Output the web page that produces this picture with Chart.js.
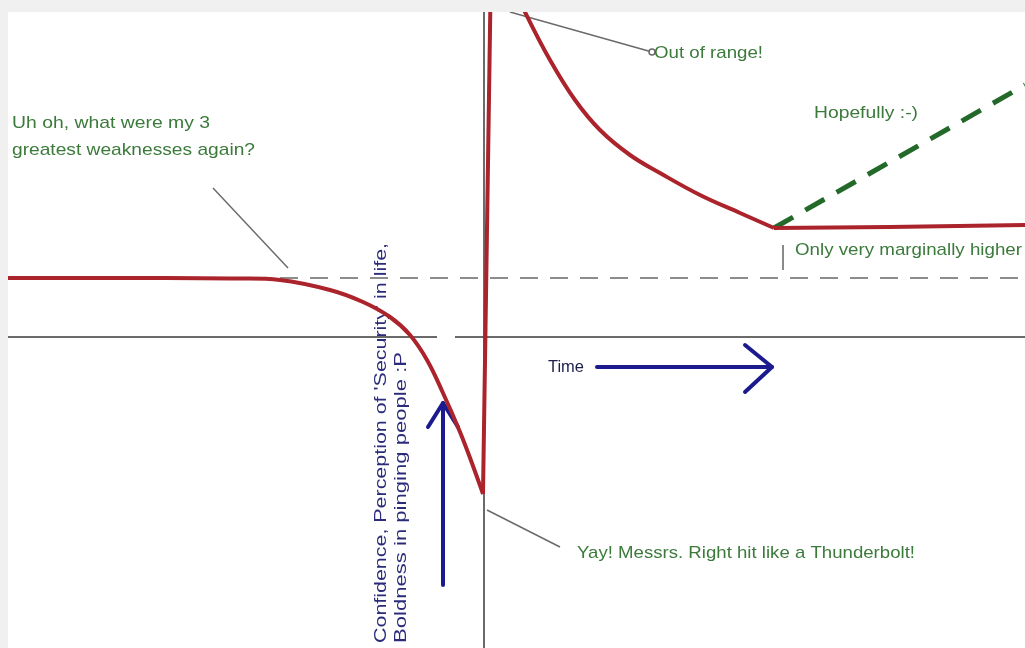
<!DOCTYPE html>
<html>
<head>
<meta charset="utf-8">
<script src="https://cdn.jsdelivr.net/npm/chart.js@4.4.1/dist/chart.umd.min.js"></script>
<style>
  html, body { margin: 0; padding: 0; background: #f0f0f0; }
  #wrap { position: absolute; left: 8px; top: 12px; width: 1017px; height: 636px; background: #fff; }
</style>
</head>
<body>
<div id="wrap"><canvas id="chart"></canvas></div>
<script>
// time runs along x, confidence along y (axis cross at 0,0)
const beforeTime = [-47.7, -33.5, -25.5, -20.5, -15.5, -12.2, -9.5, -7.5, -5.8, -4.2, -2.5, -1.2, -0.2];
const beforeConf = [5.9, 5.9, 5.85, 5.7, 4.7, 3.5, 2.0, 0.2, -2.3, -5.6, -9.5, -12.9, -15.7];

const spikeTime = [-0.2, 0.55];
const spikeConf = [-15.7, 34];

const afterTime = [2.9, 4.0, 6.5, 9.0, 11.5, 14.5, 17.5, 21.5, 25.5, 28.9];
const afterConf = [35.0, 32.5, 27.7, 23.7, 20.7, 18.2, 16.4, 14.2, 12.4, 10.9];

const settledTime = [28.9, 40.5, 54];
const settledConf = [10.9, 11.0, 11.2];

const hopeTime = [28.9, 54];
const hopeConf = [10.9, 25.2];

const baselineTime = [-20.5, 54];
const baselineConf = [5.9, 5.9];

const X_MIN = -47.7, X_MAX = 54;
const Y_MIN = -31.1, Y_MAX = 32.5;

const RED = '#ab232b';
const GREEN_TEXT = '#3b7a3b';
const NAVY = '#1b1b8f';

const pts = (xs, ys) => xs.map((x, i) => ({ x, y: ys[i] }));

const notes = [
  { text: 'Uh oh, what were my 3', x: -47.3, y: 21.4, w: 19.8, color: GREEN_TEXT },
  { text: 'greatest weaknesses again?', x: -47.3, y: 18.7, w: 24.3, color: GREEN_TEXT },
  { text: 'Out of range!', x: 16.9, y: 28.4, w: 10.9, color: GREEN_TEXT },
  { text: 'Hopefully :-)', x: 32.9, y: 22.4, w: 10.4, color: GREEN_TEXT },
  { text: 'Only very marginally higher', x: 31.0, y: 8.7, w: 22.7, color: GREEN_TEXT },
  { text: 'Time', x: 6.3, y: -3.0, w: 3.6, color: '#1e1e4a' },
  { text: 'Yay! Messrs. Right hit like a Thunderbolt!', x: 9.2, y: -21.6, w: 33.8, color: GREEN_TEXT },
  { text: "Confidence, Perception of 'Security' in life,", x: -10.4, y: -30.6, w: 40.0, color: '#2b2b7a', vertical: true },
  { text: 'Boldness in pinging people :P', x: -8.4, y: -30.6, w: 29.1, color: '#2b2b7a', vertical: true }
];

const leaders = [
  [[-27.2, 14.9], [-19.7, 6.9]],
  [[2.5, 32.5], [16.7, 28.5]],
  [[0.2, -17.3], [7.5, -21.0]]
];

const arrows = [
  { shaft: [[-4.2, -24.8], [-4.2, -6.6]], head: [[-5.7, -9.0], [-4.2, -6.6], [-2.7, -9.0]] },
  { shaft: [[11.2, -3.0], [28.7, -3.0]], head: [[26.0, -0.8], [28.7, -3.0], [26.0, -5.5]] }
];

function polyline(ctx, chart, list) {
  const sx = chart.scales.x, sy = chart.scales.y;
  ctx.beginPath();
  list.forEach(([x, y], i) => {
    const px = sx.getPixelForValue(x), py = sy.getPixelForValue(y);
    if (i === 0) ctx.moveTo(px, py); else ctx.lineTo(px, py);
  });
  ctx.stroke();
}

const notesPlugin = {
  id: 'notes',
  beforeDatasetsDraw(chart) {
    const ctx = chart.ctx;
    const sx = chart.scales.x, sy = chart.scales.y;
    ctx.save();

    // leader lines
    ctx.strokeStyle = '#6a6a6a';
    ctx.lineWidth = 1.5;
    leaders.forEach(l => polyline(ctx, chart, l));
    ctx.beginPath();
    ctx.arc(sx.getPixelForValue(16.7), sy.getPixelForValue(28.5), 3, 0, Math.PI * 2);
    ctx.fillStyle = '#fff';
    ctx.fill();
    ctx.stroke();

    // small tick under the flat part
    ctx.strokeStyle = '#8a8a8a';
    ctx.lineWidth = 2;
    polyline(ctx, chart, [[29.8, 9.2], [29.8, 6.7]]);

    // blue arrows
    ctx.strokeStyle = NAVY;
    ctx.lineWidth = 4;
    ctx.lineCap = 'round';
    ctx.lineJoin = 'round';
    arrows.forEach(a => { polyline(ctx, chart, a.shaft); polyline(ctx, chart, a.head); });

    // texts, stretched to the width they take in the picture
    ctx.font = '17px Arial, "Liberation Sans", sans-serif';
    ctx.textBaseline = 'middle';
    ctx.textAlign = 'left';
    notes.forEach(n => {
      const px = sx.getPixelForValue(n.x), py = sy.getPixelForValue(n.y);
      const len = n.vertical
        ? sy.getPixelForValue(n.y) - sy.getPixelForValue(n.y + n.w)
        : sx.getPixelForValue(n.x + n.w) - px;
      ctx.save();
      ctx.translate(px, py);
      if (n.vertical) ctx.rotate(-Math.PI / 2);
      ctx.scale(len / ctx.measureText(n.text).width, 1);
      ctx.fillStyle = n.color;
      ctx.fillText(n.text, 0, 0);
      ctx.restore();
    });

    ctx.restore();
  }
};

const redLine = (data, smooth) => ({
  data,
  borderColor: RED,
  borderWidth: 4,
  pointRadius: 0,
  showLine: true,
  tension: smooth ? 0.4 : 0,
  order: 0
});

new Chart(document.getElementById('chart'), {
  type: 'scatter',
  data: {
    datasets: [
      redLine(pts(beforeTime, beforeConf), true),
      redLine(pts(spikeTime, spikeConf), false),
      redLine(pts(afterTime, afterConf), true),
      redLine(pts(settledTime, settledConf), false),
      {
        data: pts(hopeTime, hopeConf),
        borderColor: '#23692a',
        borderWidth: 5,
        borderDash: [22, 14],
        pointRadius: 0,
        showLine: true,
        order: 1
      },
      {
        data: pts(baselineTime, baselineConf),
        borderColor: '#8c8c8c',
        borderWidth: 2,
        borderDash: [18, 12],
        pointRadius: 0,
        showLine: true,
        order: 2
      },
      {
        // time axis, broken just left of the y axis
        data: [{ x: X_MIN, y: 0 }, { x: -4.8, y: 0 }, { x: -3.0, y: null }, { x: -3.0, y: 0 }, { x: X_MAX, y: 0 }],
        borderColor: '#3a3a3a',
        borderWidth: 1.5,
        pointRadius: 0,
        showLine: true,
        spanGaps: false,
        order: 3
      },
      {
        data: [{ x: -0.1, y: Y_MIN }, { x: -0.1, y: Y_MAX }],
        borderColor: '#3a3a3a',
        borderWidth: 1.5,
        pointRadius: 0,
        showLine: true,
        order: 3
      }
    ]
  },
  options: {
    responsive: true,
    maintainAspectRatio: false,
    animation: false,
    events: [],
    layout: { padding: 0 },
    plugins: { legend: { display: false }, tooltip: { enabled: false } },
    scales: {
      x: { type: 'linear', min: X_MIN, max: X_MAX, display: false },
      y: { type: 'linear', min: Y_MIN, max: Y_MAX, display: false }
    }
  },
  plugins: [notesPlugin]
});
</script>
</body>
</html>
